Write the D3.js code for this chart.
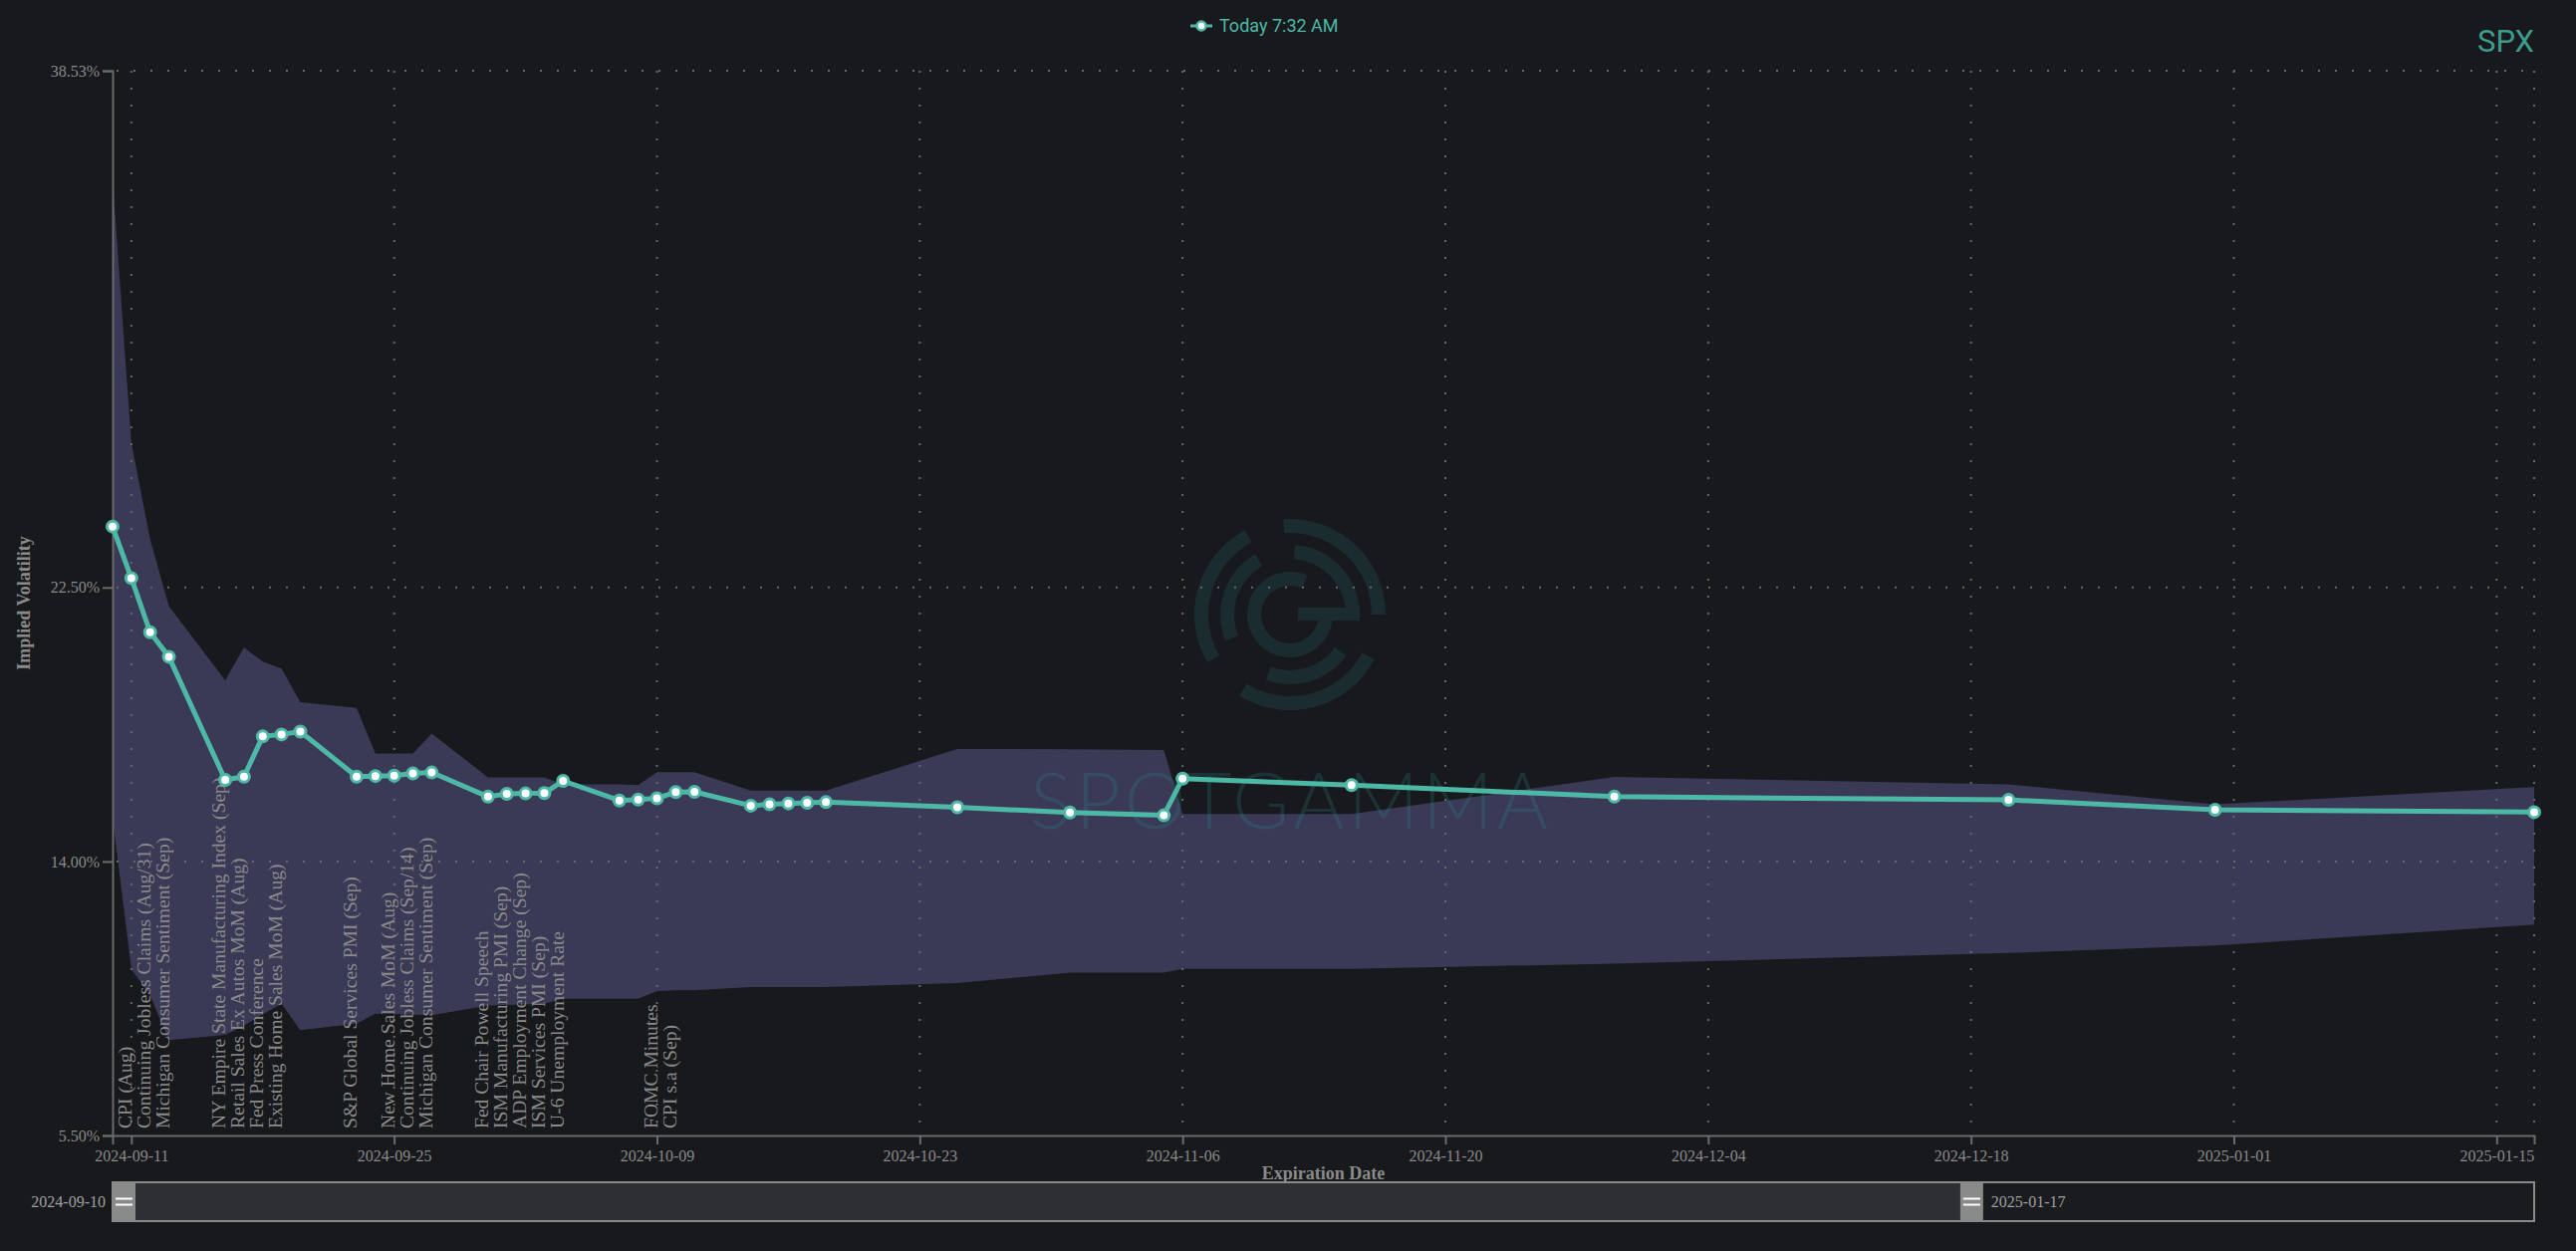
<!DOCTYPE html>
<html>
<head>
<meta charset="utf-8">
<script src="https://cdn.jsdelivr.net/npm/d3@7"></script>
<style>
  body { margin: 0; background: #18191c; }
  svg { display: block; }
</style>
</head>
<body>
<svg id="chart"></svg>
<script>
// expirations and implied vol (%)
const expirations = [
  "2024-09-10", "2024-09-11", "2024-09-12", "2024-09-13", "2024-09-16", "2024-09-17",
  "2024-09-18", "2024-09-19", "2024-09-20", "2024-09-23", "2024-09-24", "2024-09-25",
  "2024-09-26", "2024-09-27", "2024-09-30", "2024-10-01", "2024-10-02", "2024-10-03",
  "2024-10-04", "2024-10-07", "2024-10-08", "2024-10-09", "2024-10-10", "2024-10-11",
  "2024-10-14", "2024-10-15", "2024-10-16", "2024-10-17", "2024-10-18", "2024-10-25",
  "2024-10-31", "2024-11-05", "2024-11-06", "2024-11-15", "2024-11-29", "2024-12-20",
  "2024-12-31", "2025-01-17"
];
const ivToday = [
  24.39, 22.79, 21.11, 20.35, 16.53, 16.63, 17.88, 17.94, 18.03, 16.63, 16.65, 16.66,
  16.73, 16.76, 16.01, 16.10, 16.11, 16.12, 16.50, 15.89, 15.92, 15.96, 16.15, 16.16,
  15.73, 15.77, 15.80, 15.82, 15.84, 15.68, 15.52, 15.43, 16.57, 16.37, 16.01, 15.91,
  15.60, 15.53
];
const ivUpper = [
  35.16, 26.99, 24.00, 21.92, 19.62, 20.64, 20.20, 19.98, 18.94, 18.76, 17.35, 17.35,
  17.35, 17.97, 16.61, 16.61, 16.61, 16.61, 16.39, 16.39, 16.37, 16.77, 16.77, 16.77,
  16.20, 16.20, 16.20, 16.20, 16.20, 17.49, 17.48, 17.46, 15.47, 15.47, 16.62, 16.39,
  15.77, 16.31
];
const ivLower = [
  15.35, 10.66, 9.85, 8.46, 8.62, 8.91, 9.26, 9.59, 8.77, 8.97, 9.28, 9.27,
  9.25, 9.23, 9.53, 9.55, 9.57, 9.59, 9.74, 9.74, 9.74, 9.98, 10.00, 10.00,
  10.10, 10.10, 10.10, 10.10, 10.10, 10.23, 10.55, 10.55, 10.67, 10.67, 10.83, 11.16,
  11.39, 12.04
];

// macro events
const eventDates = ["2024-09-11", "2024-09-16", "2024-09-23", "2024-09-25", "2024-09-30", "2024-10-09"];
const eventLabels = [
  ["CPI (Aug)", "Continuing Jobless Claims (Aug/31)", "Michigan Consumer Sentiment (Sep)"],
  ["NY Empire State Manufacturing Index (Sep)", "Retail Sales Ex Autos MoM (Aug)", "Fed Press Conference", "Existing Home Sales MoM (Aug)"],
  ["S&P Global Services PMI (Sep)"],
  ["New Home Sales MoM (Aug)", "Continuing Jobless Claims (Sep/14)", "Michigan Consumer Sentiment (Sep)"],
  ["Fed Chair Powell Speech", "ISM Manufacturing PMI (Sep)", "ADP Employment Change (Sep)", "ISM Services PMI (Sep)", "U-6 Unemployment Rate"],
  ["FOMC Minutes", "CPI s.a (Sep)"]
];

const xTickDates = [
  "2024-09-11", "2024-09-25", "2024-10-09", "2024-10-23", "2024-11-06",
  "2024-11-20", "2024-12-04", "2024-12-18", "2025-01-01", "2025-01-15"
];
const yTickValues = [5.5, 14, 22.5, 38.53];
const rangeStart = "2024-09-10";
const rangeEnd = "2025-01-17";
const legendLabel = "Today 7:32 AM";
const symbolLabel = "SPX";

const W = 2586, H = 1256;
const plotL = 113, plotR = 2544, plotT = 71, plotB = 1140;
const teal = "#4db8a6";
const grey = "#8a8a8a";
const serif = "'Liberation Serif', 'DejaVu Serif', serif";

const parse = d3.timeParse("%Y-%m-%d");
const fmt = d3.timeFormat("%Y-%m-%d");
const rows = expirations.map((d, i) => ({ date: parse(d), iv: ivToday[i], hi: ivUpper[i], lo: ivLower[i] }));

const svg = d3.select("#chart").attr("width", W).attr("height", H);
svg.append("rect").attr("width", W).attr("height", H).attr("fill", "#18191c");

const x = d3.scaleTime().domain([parse(rangeStart), parse(rangeEnd)]).range([plotL, plotR]);
const y = d3.scaleLinear().domain([yTickValues[0], yTickValues[yTickValues.length - 1]]).range([plotB, plotT]);

// band
const band = d3.area().x(d => x(d.date)).y0(d => y(d.lo)).y1(d => y(d.hi));
svg.append("path").datum(rows).attr("d", band).attr("fill", "#3a3956");

// grid
const grid = svg.append("g").attr("stroke", "#666").attr("stroke-width", 2).attr("stroke-dasharray", "2,15");
grid.selectAll("line.h").data(yTickValues.slice(1)).enter().append("line")
  .attr("x1", plotL + 4).attr("x2", plotR).attr("y1", d => y(d)).attr("y2", d => y(d));
grid.selectAll("line.v").data(xTickDates.map(parse).concat([parse(rangeEnd)])).enter().append("line")
  .attr("x1", d => x(d)).attr("x2", d => x(d)).attr("y1", plotT).attr("y2", plotB - 2);

// watermark
const wm = svg.append("g").attr("transform", "translate(1295,617)").attr("fill", "#2a9a9a").attr("opacity", 0.15);
const arc = d3.arc();
const deg = Math.PI / 180;
[
  { r0: 82, r1: 96, spans: [[-4, 90], [118, 212], [240, 332]] },
  { r0: 56, r1: 70, spans: [[4, 90], [126, 200], [248, 330]] },
  { r0: 29, r1: 43, spans: [[96, 384]] }
].forEach(ring => ring.spans.forEach(s => {
  wm.append("path").attr("d", arc({ innerRadius: ring.r0, outerRadius: ring.r1, startAngle: s[0] * deg, endAngle: s[1] * deg }));
}));
wm.append("rect").attr("x", 8).attr("y", -7).attr("width", 62).attr("height", 13);
svg.append("text").attr("x", 1294).attr("y", 832).attr("text-anchor", "middle")
  .attr("font-family", "Lato, 'Open Sans', sans-serif").attr("font-weight", 300).attr("font-size", 78)
  .attr("textLength", 520).attr("lengthAdjust", "spacing")
  .attr("fill", "#2a9a9a").attr("opacity", 0.2).text("SPOTGAMMA");

// event labels
eventDates.forEach((d, i) => {
  const g = svg.append("g").attr("transform", `translate(${x(parse(d))},1133) rotate(-90)`);
  g.selectAll("text").data(eventLabels[i]).enter().append("text")
    .attr("x", 0).attr("y", (t, j) => j * 19)
    .attr("font-family", serif).attr("font-size", 19.6).attr("fill", grey)
    .text(t => t);
});

// axes
const xAxis = svg.append("g").attr("transform", `translate(0,${plotB})`)
  .call(d3.axisBottom(x).tickValues(xTickDates.map(parse)).tickFormat(fmt).tickSize(9).tickPadding(6));
const yAxis = svg.append("g").attr("transform", `translate(${plotL},0)`)
  .call(d3.axisLeft(y).tickValues(yTickValues).tickFormat(d => d.toFixed(2) + "%").tickSize(10).tickPadding(3));
[xAxis, yAxis].forEach(a => {
  a.select(".domain").attr("stroke", "#6b6b6b").attr("stroke-width", 2);
  a.selectAll(".tick line").attr("stroke", "#6b6b6b").attr("stroke-width", 2);
  a.selectAll(".tick text").attr("fill", grey).attr("font-family", serif).attr("font-size", 16);
});

svg.append("text").attr("transform", `translate(24,${(plotT + plotB) / 2}) rotate(-90)`)
  .attr("text-anchor", "middle").attr("dy", "0.35em")
  .attr("font-family", serif).attr("font-weight", "bold").attr("font-size", 18).attr("fill", grey)
  .text("Implied Volatility");
svg.append("text").attr("x", (plotL + plotR) / 2).attr("y", 1178).attr("text-anchor", "middle").attr("dy", "0.35em")
  .attr("font-family", serif).attr("font-weight", "bold").attr("font-size", 18).attr("fill", grey)
  .text("Expiration Date");

// today's term structure
const line = d3.line().x(d => x(d.date)).y(d => y(d.iv));
svg.append("path").datum(rows).attr("d", line).attr("fill", "none")
  .attr("stroke", teal).attr("stroke-width", 5).attr("stroke-linejoin", "round");
svg.append("g").selectAll("circle").data(rows).enter().append("circle")
  .attr("cx", d => x(d.date)).attr("cy", d => y(d.iv)).attr("r", 5.5)
  .attr("fill", "#ffffff").attr("stroke", teal).attr("stroke-width", 3);

// legend
const lg = svg.append("g").attr("transform", "translate(1195,26)");
lg.append("line").attr("x1", 0).attr("x2", 22).attr("stroke", teal).attr("stroke-width", 3);
lg.append("circle").attr("cx", 11).attr("r", 4.5).attr("fill", "#fff").attr("stroke", teal).attr("stroke-width", 2.5);
lg.append("text").attr("x", 29).attr("dy", "0.36em").attr("font-family", "Roboto, sans-serif")
  .attr("font-size", 18).attr("fill", teal).text(legendLabel);

svg.append("text").attr("x", plotR).attr("y", 52).attr("text-anchor", "end")
  .attr("font-family", "Roboto, sans-serif").attr("font-size", 31).attr("fill", "#3d9c8e").text(symbolLabel);

// range slider
const sy = 1187, sh = 39, hw = 23;
const handleR = plotL + (plotR - plotL) * 0.763;
const sl = svg.append("g");
sl.append("rect").attr("x", plotL).attr("y", sy).attr("width", plotR - plotL).attr("height", sh)
  .attr("fill", "#1a1b1f").attr("stroke", "#8a8a8a").attr("stroke-width", 2);
sl.append("rect").attr("x", plotL + hw).attr("y", sy + 1).attr("width", handleR - plotL - hw).attr("height", sh - 2)
  .attr("fill", "#2e2f33");
[plotL, handleR].forEach(hx => {
  sl.append("rect").attr("x", hx).attr("y", sy).attr("width", hw).attr("height", sh).attr("fill", "#8a8a8a");
  [-3, 3].forEach(o => sl.append("line").attr("x1", hx + 3).attr("x2", hx + hw - 3)
    .attr("y1", sy + sh / 2 + o).attr("y2", sy + sh / 2 + o).attr("stroke", "#fff").attr("stroke-width", 2));
});
sl.append("text").attr("x", plotL - 7).attr("y", sy + sh / 2).attr("dy", "0.35em").attr("text-anchor", "end")
  .attr("font-family", serif).attr("font-size", 16).attr("fill", "#a0a0a0").text(rangeStart);
sl.append("text").attr("x", handleR + hw + 8).attr("y", sy + sh / 2).attr("dy", "0.35em")
  .attr("font-family", serif).attr("font-size", 16).attr("fill", "#a0a0a0").text(rangeEnd);
</script>
</body>
</html>
